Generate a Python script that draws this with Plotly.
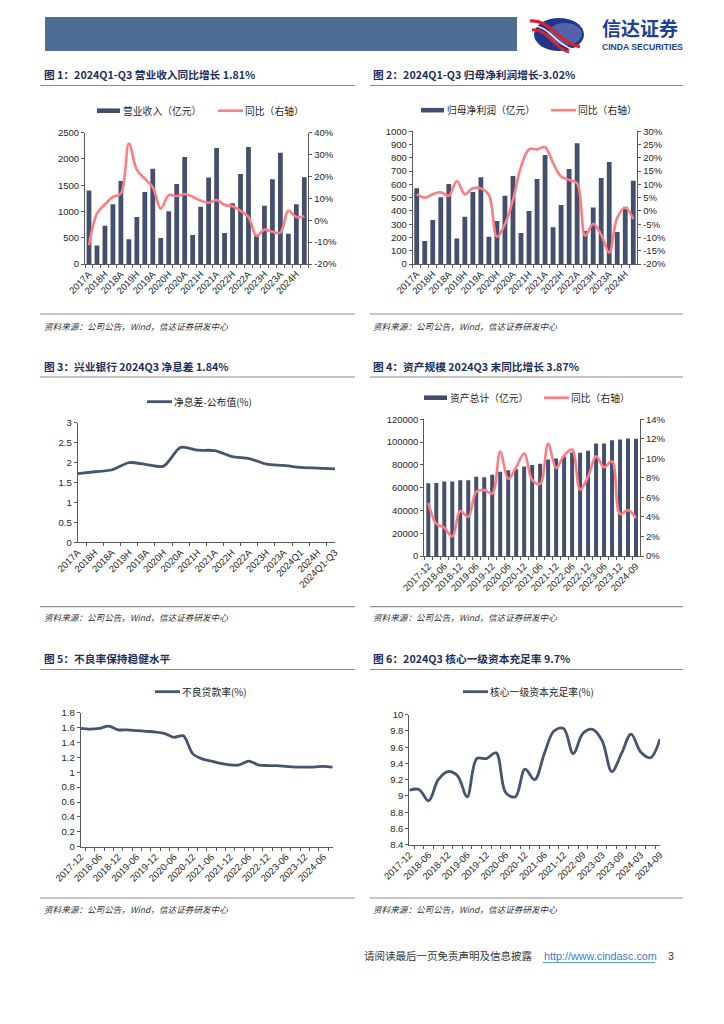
import plotly.graph_objects as go

# ---------------- data ----------------
periods_q = ["2017A", "2018Q1", "2018H", "2018Q1-Q3", "2018A", "2019Q1", "2019H", "2019Q1-Q3", "2019A",
             "2020Q1", "2020H", "2020Q1-Q3", "2020A", "2021Q1", "2021H", "2021Q1-Q3", "2021A",
             "2022Q1", "2022H", "2022Q1-Q3", "2022A", "2023Q1", "2023H", "2023Q1-Q3", "2023A",
             "2024Q1", "2024H", "2024Q1-Q3"]
revenue = [1400, 350, 730, 1140, 1580, 470, 895, 1370, 1815, 495, 1003, 1523, 2035, 552, 1091, 1645, 2208,
           590, 1155, 1712, 2227, 560, 1110, 1615, 2118, 577, 1136, 1650]
revenue_yoy = [-11.5, 3.0, 7.3, 10.7, 12.2, 35.0, 23.0, 19.0, 15.0, 5.3, 11.5, 11.0, 12.0, 10.7, 9.0, 8.0, 9.2,
               7.0, 6.4, 4.3, 1.5, -7.2, -4.3, -5.3, -5.6, 4.3, 1.5, 1.81]

profit = [570, 173, 332, 503, 603, 193, 357, 543, 653, 206, 324, 515, 663, 234, 400, 641, 822,
          276, 445, 716, 910, 249, 425, 648, 769, 241, 432, 628]
profit_yoy = [6.3, 5.0, 6.3, 7.0, 5.7, 11.3, 6.3, 8.5, 8.5, 6.0, -9.7, -5.0, 4.1, 16.7, 23.2, 23.2, 24.0,
              18.0, 13.0, 11.7, 10.4, -9.3, -4.9, -9.0, -15.7, -2.5, 1.2, -3.02]

nim_periods = ["2017A", "2018H", "2018A", "2019H", "2019A", "2020H", "2020A", "2021H", "2021A", "2022H",
               "2022A", "2023H", "2023A", "2024Q1", "2024H", "2024Q1-Q3"]
nim = [1.72, 1.77, 1.82, 2.00, 1.95, 1.91, 2.38, 2.31, 2.30, 2.15, 2.10, 1.96, 1.93, 1.88, 1.86, 1.84]

asset_periods = ["2017-12", "2018-03", "2018-06", "2018-09", "2018-12", "2019-03", "2019-06", "2019-09",
                 "2019-12", "2020-03", "2020-06", "2020-09", "2020-12", "2021-03", "2021-06", "2021-09",
                 "2021-12", "2022-03", "2022-06", "2022-09", "2022-12", "2023-03", "2023-06", "2023-09",
                 "2023-12", "2024-06", "2024-09"]
assets = [63900, 64000, 65400, 65400, 66600, 66600, 69500, 69200, 71300, 73900, 75200, 76200, 78600, 79800,
          80900, 84800, 85600, 87300, 90900, 90600, 92400, 98800, 98800, 101500, 102300, 103200, 102900]
asset_yoy = [5.45, 3.3, 2.9, 2.0, 4.6, 4.0, 6.6, 6.75, 6.4, 10.7, 7.9, 9.1, 10.5, 7.8, 7.4, 11.5, 9.0,
             10.3, 10.9, 6.8, 8.1, 10.2, 9.1, 9.7, 4.3, 4.7, 3.87]

npl_periods = ["2017-12", "2018-03", "2018-06", "2018-09", "2018-12", "2019-03", "2019-06", "2019-09",
               "2019-12", "2020-03", "2020-06", "2020-09", "2020-12", "2021-03", "2021-06", "2021-09",
               "2021-12", "2022-03", "2022-06", "2022-09", "2022-12", "2023-03", "2023-06", "2023-09",
               "2023-12", "2024-03", "2024-06", "2024-09"]
npl = [1.59, 1.58, 1.59, 1.62, 1.57, 1.57, 1.56, 1.55, 1.54, 1.52, 1.47, 1.49, 1.25, 1.18, 1.15, 1.12,
       1.10, 1.10, 1.15, 1.10, 1.09, 1.09, 1.08, 1.07, 1.07, 1.07, 1.08, 1.07]

cet1_periods = ["2017-12", "2018-03", "2018-06", "2018-09", "2018-12", "2019-03", "2019-06", "2019-09",
                "2019-12", "2020-03", "2020-06", "2020-09", "2020-12", "2021-03", "2021-06", "2021-09",
                "2021-12", "2022-06", "2022-09", "2022-12", "2023-03", "2023-06", "2023-09", "2023-12",
                "2024-03", "2024-06", "2024-09"]
cet1 = [9.07, 9.08, 8.94, 9.20, 9.30, 9.25, 8.99, 9.46, 9.46, 9.53, 9.04, 8.99, 9.33, 9.20, 9.52, 9.80,
        9.83, 9.52, 9.77, 9.82, 9.68, 9.30, 9.52, 9.76, 9.54, 9.47, 9.70]

ticks_yoy1 = [-20, -10, 0, 10, 20, 30, 40]
ticks_yoy2 = [-20, -15, -10, -5, 0, 5, 10, 15, 20, 25, 30]
ticks_yoy4 = [0, 2, 4, 6, 8, 10, 12, 14]

titles = ["图 1：2024Q1-Q3 营业收入同比增长 1.81%",
          "图 2：2024Q1-Q3 归母净利润增长-3.02%",
          "图 3：兴业银行 2024Q3 净息差 1.84%",
          "图 4：资产规模 2024Q3 末同比增长 3.87%",
          "图 5：不良率保持稳健水平",
          "图 6：2024Q3 核心一级资本充足率 9.7%"]
source_text = "资料来源：公司公告，Wind，信达证券研发中心"

# ---------------- style ----------------
W, H = 724, 1024
OFF = 8  # the page body margin that the browser adds around the figure
BAR = "#434f6d"
RED = "#ff7c80"
NAVY = "#45546f"
AX = "#595959"
TXT = "#262626"
TITLE = "#1c2f5c"
CJK = "Noto Sans CJK SC"
NUM = "Liberation Sans, Arial, Noto Sans CJK SC"


def px(x):
    return (x - OFF) / W


def py(y):
    return 1 - (y - OFF) / H


def every_other(cats):
    return [c if i % 2 == 0 else "" for i, c in enumerate(cats)]


fig = go.Figure()

# chart 1
fig.add_bar(x=periods_q, y=revenue, marker_color=BAR, width=0.6, xaxis="x", yaxis="y")
fig.add_scatter(x=periods_q, y=revenue_yoy, mode="lines", xaxis="x", yaxis="y2",
                line=dict(color=RED, width=2.6, shape="spline", smoothing=1))
# chart 2
fig.add_bar(x=periods_q, y=profit, marker_color=BAR, width=0.6, xaxis="x2", yaxis="y3")
fig.add_scatter(x=periods_q, y=profit_yoy, mode="lines", xaxis="x2", yaxis="y4",
                line=dict(color=RED, width=2.6, shape="spline", smoothing=1))
# chart 3
fig.add_scatter(x=nim_periods, y=nim, mode="lines", xaxis="x3", yaxis="y5",
                line=dict(color=NAVY, width=2.8, shape="spline", smoothing=0.8))
# chart 4
fig.add_bar(x=asset_periods, y=assets, marker_color=BAR, width=0.5, xaxis="x4", yaxis="y6")
fig.add_scatter(x=asset_periods, y=asset_yoy, mode="lines", xaxis="x4", yaxis="y7",
                line=dict(color=RED, width=2.6, shape="spline", smoothing=1))
# chart 5
fig.add_scatter(x=npl_periods, y=npl, mode="lines", xaxis="x5", yaxis="y8",
                line=dict(color=NAVY, width=2.8, shape="spline", smoothing=0.8))
# chart 6
fig.add_scatter(x=cet1_periods, y=cet1, mode="lines", xaxis="x6", yaxis="y9",
                line=dict(color=NAVY, width=2.8, shape="spline", smoothing=1))

tickfont = dict(family=NUM, size=9.5, color=TXT)


def xax(x0, x1, anchor, cats, labels):
    return dict(domain=[px(x0), px(x1)], anchor=anchor, type="category", automargin=False,
                tickmode="array", tickvals=cats, ticktext=labels, tickson="boundaries",
                ticks="outside", ticklen=3, tickcolor=AX, tickangle=-45,
                showline=True, linecolor=AX, linewidth=1, showgrid=False, zeroline=False,
                tickfont=tickfont, fixedrange=True)


def yax(y0, y1, anchor, rng, dtick=None, tickvals=None, ticktext=None, side="left", overlay=None):
    d = dict(anchor=anchor, range=rng, side=side, showline=True, linecolor=AX, linewidth=1,
             ticks="outside", ticklen=3, tickcolor=AX, showgrid=False, zeroline=False,
             tickfont=tickfont, fixedrange=True, automargin=False)
    if overlay:
        d["overlaying"] = overlay
    else:
        d["domain"] = [py(y1), py(y0)]
    if dtick is not None:
        d["dtick"] = dtick
        d["tick0"] = rng[0]
    if tickvals is not None:
        d["tickmode"] = "array"
        d["tickvals"] = tickvals
        d["ticktext"] = ticktext
    return d


layout = dict(
    template="none",
    width=W, height=H, autosize=False, margin=dict(l=0, r=0, t=0, b=0, pad=0, autoexpand=False),
    paper_bgcolor="white", plot_bgcolor="white", showlegend=False,
    font=dict(family=NUM, size=9.5, color=TXT),
    xaxis=xax(85, 308.3, "y", periods_q, every_other(periods_q)),
    yaxis=yax(132.7, 264, "x", [0, 2500], dtick=500),
    yaxis2=yax(0, 0, "x", [-20, 40], tickvals=ticks_yoy1,
               ticktext=[f"{v}%" for v in ticks_yoy1], side="right", overlay="y"),
    xaxis2=xax(412.7, 637.3, "y3", periods_q, every_other(periods_q)),
    yaxis3=yax(131.3, 264, "x2", [0, 1000], dtick=100),
    yaxis4=yax(0, 0, "x2", [-20, 30], tickvals=ticks_yoy2,
               ticktext=[f"{v}%" for v in ticks_yoy2], side="right", overlay="y3"),
    xaxis3=xax(77.7, 335, "y5", nim_periods, nim_periods),
    yaxis5=yax(422.7, 542.3, "x3", [0, 3], dtick=0.5),
    xaxis4=xax(424.3, 640, "y6", asset_periods, every_other(asset_periods)),
    yaxis6=yax(419.3, 556, "x4", [0, 120000], dtick=20000),
    yaxis7=yax(0, 0, "x4", [0, 14], tickvals=ticks_yoy4,
               ticktext=[f"{v}%" for v in ticks_yoy4], side="right", overlay="y6"),
    xaxis5=xax(80.7, 332.7, "y8", npl_periods, every_other(npl_periods)),
    yaxis8=yax(712.7, 846.7, "x5", [0, 1.8], dtick=0.2),
    xaxis6=xax(409.3, 660, "y9", cet1_periods, every_other(cet1_periods)),
    yaxis9=yax(714.7, 844.7, "x6", [8.4, 10], dtick=0.2),
)
layout["yaxis6"]["tickformat"] = "d"
fig.update_layout(**layout)

shapes = []
annotations = []


def hline(x0, x1, y, color="#8c8c8c", width=1.2):
    shapes.append(dict(type="line", xref="paper", yref="paper", x0=px(x0), x1=px(x1),
                       y0=py(y), y1=py(y), line=dict(color=color, width=width)))


def text(x, y, s, size=9, color=TXT, family=CJK, xanchor="left", yanchor="middle"):
    annotations.append(dict(xref="paper", yref="paper", x=px(x), y=py(y), text=s, showarrow=False,
                            xanchor=xanchor, yanchor=yanchor, borderpad=0,
                            font=dict(family=family, size=size, color=color)))


# header banner
shapes.append(dict(type="rect", xref="paper", yref="paper", x0=px(45), x1=px(517), y0=py(51), y1=py(17),
                   fillcolor="#4e6d94", line=dict(width=0)))
# logo ellipse
shapes.append(dict(type="circle", xref="paper", yref="paper", x0=px(534), x1=px(584), y0=py(51), y1=py(18),
                   fillcolor="#22358c", line=dict(width=0)))
shapes.append(dict(type="circle", xref="paper", yref="paper", x0=px(548), x1=px(582), y0=py(45), y1=py(23),
                   fillcolor="#8d9ad0", line=dict(width=0), opacity=0.45))


def curve(pts, color, width):
    (x0, y0), (c1x, c1y), (c2x, c2y), (x1, y1) = pts
    path = (f"M {px(x0)} {py(y0)} C {px(c1x)} {py(c1y)}, {px(c2x)} {py(c2y)}, {px(x1)} {py(y1)}")
    shapes.append(dict(type="path", xref="paper", yref="paper", path=path,
                       line=dict(color=color, width=width)))


curve([(530, 21), (550, 19), (557, 42), (580, 47)], "#d9232d", 3.2)
curve([(531, 26), (549, 24), (556, 46), (575, 50)], "#ffffff", 1.4)
curve([(532, 30), (548, 28), (554, 49), (569, 52)], "#d9232d", 3.0)

text(601, 27, "<b>信达证券</b>", size=19, color="#1d3f96", family=CJK)
text(601, 47, "<b>CINDA SECURITIES</b>", size=8.6, color="#1d3f96", family=NUM)

# titles, rules and sources
cols = [(40, 355, 42.5), (370, 683, 371.5)]
rows = [(74.5, 85.5, 314, 325.5), (366, 377, 606.7, 616.7), (658, 669.5, 898, 908.5)]
k = 0
for r in rows:
    for c in cols:
        text(c[2], r[0], "<b>" + titles[k] + "</b>", size=10.7, color=TITLE)
        hline(c[0], c[1], r[1])
        hline(c[0], c[1], r[2])
        text(c[2], r[3], "<i>" + source_text + "</i>", size=8.6, color="#333333")
        k += 1


# legends
def leg_bar(x0, y, label):
    shapes.append(dict(type="rect", xref="paper", yref="paper", x0=px(x0), x1=px(x0 + 23),
                       y0=py(y + 2.3), y1=py(y - 2.3), fillcolor=BAR, line=dict(width=0)))
    text(x0 + 25, y, label, size=9.8)


def leg_line(x0, y, label, color, width):
    shapes.append(dict(type="line", xref="paper", yref="paper", x0=px(x0), x1=px(x0 + 25),
                       y0=py(y), y1=py(y), line=dict(color=color, width=width)))
    text(x0 + 26, y, label, size=9.8)


leg_bar(97, 110.7, "营业收入（亿元）")
leg_line(218, 110.7, "同比（右轴）", RED, 2.6)
leg_bar(421, 110.2, "归母净利润（亿元）")
leg_line(551, 110.2, "同比（右轴）", RED, 2.6)
leg_line(147, 401.7, "净息差-公布值(%)", NAVY, 2.8)
leg_bar(424, 397.7, "资产总计（亿元）")
leg_line(544, 397.7, "同比（右轴）", RED, 2.6)
leg_line(155, 691.7, "不良贷款率(%)", NAVY, 2.8)
leg_line(463, 691.7, "核心一级资本充足率(%)", NAVY, 2.8)

# footer
text(363, 955.5, "请阅读最后一页免责声明及信息披露", size=10.5, color="#333333")
text(543, 955.5, "http://www.cindasc.com", size=10.8, color="#3a7bd5", family=NUM)
shapes.append(dict(type="line", xref="paper", yref="paper", x0=px(543), x1=px(655), y0=py(962.5), y1=py(962.5),
                   line=dict(color="#3a7bd5", width=0.8)))
text(667, 955.5, "3", size=10.5, color="#333333", family=NUM)

fig.update_layout(shapes=shapes, annotations=annotations)
fig.write_html("out.html")
